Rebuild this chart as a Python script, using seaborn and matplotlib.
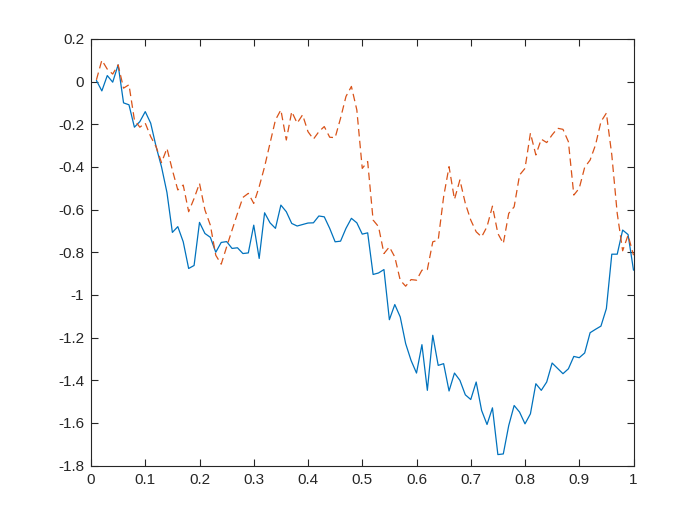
import numpy as np
import pandas as pd
import matplotlib
import matplotlib.pyplot as plt
import seaborn as sns
from matplotlib.ticker import FuncFormatter

matplotlib.use('Agg')

# values, x = 0.01 .. 1.00
x = [round(0.01 * k, 2) for k in range(1, 101)]

walk_a = [0.005, -0.044, 0.028, -0.003, 0.078, -0.100, -0.109, -0.214, -0.188, -0.141,
          -0.195, -0.305, -0.400, -0.520, -0.707, -0.680, -0.751, -0.876, -0.862, -0.660,
          -0.712, -0.730, -0.800, -0.754, -0.750, -0.782, -0.779, -0.806, -0.803, -0.673,
          -0.829, -0.615, -0.662, -0.688, -0.579, -0.610, -0.665, -0.677, -0.670, -0.663,
          -0.662, -0.630, -0.634, -0.688, -0.751, -0.748, -0.688, -0.641, -0.662, -0.715,
          -0.709, -0.904, -0.897, -0.881, -1.116, -1.045, -1.103, -1.228, -1.307, -1.366,
          -1.233, -1.447, -1.189, -1.330, -1.322, -1.450, -1.366, -1.400, -1.468, -1.490,
          -1.408, -1.541, -1.607, -1.529, -1.748, -1.745, -1.612, -1.518, -1.549, -1.604,
          -1.557, -1.416, -1.447, -1.408, -1.319, -1.344, -1.369, -1.346, -1.288, -1.294,
          -1.272, -1.177, -1.161, -1.146, -1.064, -0.809, -0.809, -0.696, -0.717, -0.884]

walk_b = [0.008, 0.100, 0.058, 0.035, 0.078, -0.031, -0.015, -0.180, -0.214, -0.195,
          -0.258, -0.305, -0.380, -0.313, -0.415, -0.508, -0.485, -0.610, -0.548, -0.477,
          -0.602, -0.673, -0.814, -0.856, -0.775, -0.696, -0.618, -0.543, -0.524, -0.571,
          -0.493, -0.399, -0.289, -0.180, -0.133, -0.274, -0.141, -0.195, -0.156, -0.235,
          -0.270, -0.235, -0.211, -0.261, -0.263, -0.172, -0.070, -0.023, -0.133, -0.407,
          -0.375, -0.649, -0.680, -0.806, -0.775, -0.822, -0.931, -0.959, -0.928, -0.931,
          -0.884, -0.881, -0.751, -0.743, -0.540, -0.399, -0.552, -0.461, -0.571, -0.649,
          -0.704, -0.728, -0.680, -0.584, -0.712, -0.759, -0.618, -0.587, -0.438, -0.407,
          -0.242, -0.344, -0.270, -0.286, -0.250, -0.219, -0.224, -0.282, -0.532, -0.500,
          -0.402, -0.368, -0.297, -0.188, -0.148, -0.344, -0.618, -0.793, -0.720, -0.814]

df = pd.DataFrame({'x': x, 'a': walk_a, 'b': walk_b})

sns.set_style('white')
plt.rcParams['font.family'] = ['Liberation Sans', 'DejaVu Sans']

axis_col = '#262626'
fig = plt.figure(figsize=(7, 5.25), dpi=100)
ax = fig.add_axes([0.13, 0.113, 0.775, 0.813])

sns.lineplot(data=df, x='x', y='a', ax=ax, color='#0072BD', linewidth=0.9)
line_b = sns.lineplot(data=df, x='x', y='b', ax=ax, color='#D95319', linewidth=0.9).lines[-1]
line_b.set_dashes([6, 3.5])

ax.set_xlim(0, 1)
ax.set_ylim(-1.8, 0.2)
ax.set_xticks(np.arange(0, 1.01, 0.1))
ax.set_yticks(np.arange(-1.8, 0.21, 0.2))


def tick_fmt(v, pos):
    v = round(v, 2) + 0.0
    if abs(v) < 1e-9:
        return '0'
    return '%g' % v


fmt = FuncFormatter(tick_fmt)
ax.xaxis.set_major_formatter(fmt)
ax.yaxis.set_major_formatter(fmt)
ax.set_xlabel('')
ax.set_ylabel('')

for s in ax.spines.values():
    s.set_visible(True)
    s.set_color(axis_col)
    s.set_linewidth(0.8)
ax.tick_params(direction='in', length=5, width=0.8, colors=axis_col,
               labelsize=11, top=True, right=True, bottom=True, left=True)
ax.tick_params(axis='x', pad=5)
ax.tick_params(axis='y', pad=5)

fig.savefig('out.png', dpi=100)
plt.close('all')
